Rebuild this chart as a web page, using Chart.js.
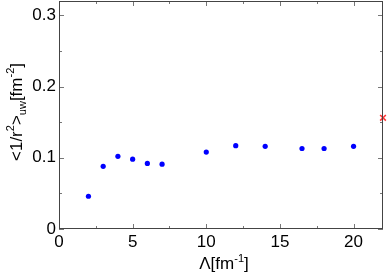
<html>
<head>
<script src="https://cdn.jsdelivr.net/npm/chart.js@4.4.0/dist/chart.umd.min.js"></script>
<style>
body { margin:0; background:#fff; }
#wrap { width:388px; height:274px; }
</style>
</head>
<body>
<div id="wrap"><canvas id="c"></canvas></div>
<script>
// data
var lambdaVals = [2, 3, 4, 5, 6, 7, 10, 12, 14, 16.5, 18, 20];
var invR2Vals = [0.046, 0.088, 0.102, 0.098, 0.092, 0.091, 0.108, 0.117, 0.116, 0.113, 0.113, 0.116];
var refLambda = [22];
var refVals = [0.156];
var xTickLabels = [0, 5, 10, 15, 20];
var yTickLabels = [0, 0.1, 0.2, 0.3];

var FONT = '"Liberation Sans", Arial, sans-serif';

function pts(xs, ys) {
	var out = [];
	for (var i = 0; i < xs.length; i++) out.push({x: xs[i], y: ys[i]});
	return out;
}

// draw a run of text pieces: [text, size, baseline shift]
function drawPieces(ctx, pieces, x, y) {
	var w = 0;
	pieces.forEach(function(p) {
		ctx.font = p[1] + 'px ' + FONT;
		w += ctx.measureText(p[0]).width;
	});
	var cx = x - w / 2;
	pieces.forEach(function(p) {
		ctx.font = p[1] + 'px ' + FONT;
		ctx.fillText(p[0], cx, y + p[2]);
		cx += ctx.measureText(p[0]).width;
	});
}

var framePlugin = {
	id: 'frame',
	afterDraw: function(chart) {
		var ctx = chart.ctx, a = chart.chartArea;
		var xs = chart.scales.x, ys = chart.scales.y;
		ctx.save();
		// inward ticks on all four sides
		ctx.strokeStyle = '#777';
		ctx.lineWidth = 1;
		ctx.beginPath();
		for (var v = 0; v <= xs.max + 1e-9; v += 2.5) {
			var px = Math.round(xs.getPixelForValue(v)) + 0.5;
			var len = (v % 5 === 0) ? 5 : 3;
			ctx.moveTo(px, a.bottom); ctx.lineTo(px, a.bottom - len);
			ctx.moveTo(px, a.top); ctx.lineTo(px, a.top + len);
		}
		for (var k = 0; k <= 6; k++) {
			var val = k * 0.05;
			var py = Math.round(ys.getPixelForValue(val)) + 0.5;
			var l2 = (k % 2 === 0) ? 5 : 3;
			ctx.moveTo(a.left, py); ctx.lineTo(a.left + l2, py);
			ctx.moveTo(a.right, py); ctx.lineTo(a.right - l2, py);
		}
		ctx.stroke();
		// frame
		ctx.strokeStyle = '#444';
		ctx.strokeRect(Math.round(a.left) + 0.5, Math.round(a.top) + 0.5,
			Math.round(a.right - a.left) - 1, Math.round(a.bottom - a.top) - 1);
		// axis titles
		ctx.fillStyle = '#000';
		ctx.textBaseline = 'alphabetic';
		ctx.textAlign = 'left';
		drawPieces(ctx, [['\u039B[fm', 17, 0], ['-1', 11, -7], [']', 17, 0]], (a.left + a.right) / 2 + 3, 269);
		ctx.translate(22, 112);
		ctx.rotate(-Math.PI / 2);
		drawPieces(ctx, [['<1/r', 17, 0], ['2', 11, -8], ['>', 17, 0], ['uw', 11, 4],
			['[fm', 17, 0], ['-2', 11, -8], [']', 17, 0]], 0, 0);
		ctx.restore();
	}
};

new Chart(document.getElementById('c'), {
	type: 'scatter',
	data: {
		datasets: [{
			data: pts(lambdaVals, invR2Vals),
			backgroundColor: '#0000ff',
			borderColor: '#0000ff',
			pointRadius: 2.6,
			borderWidth: 0
		}, {
			data: pts(refLambda, refVals),
			pointStyle: 'crossRot',
			pointRadius: 4,
			borderColor: '#ff3333',
			borderWidth: 1.6,
			clip: false
		}]
	},
	plugins: [framePlugin],
	options: {
		responsive: true,
		maintainAspectRatio: false,
		animation: false,
		layout: { autoPadding: false, padding: { top: 1, right: 5, left: 0, bottom: 0 } },
		plugins: { legend: { display: false }, tooltip: { enabled: false } },
		scales: {
			x: {
				type: 'linear', min: 0, max: 22,
				grid: { display: false, drawTicks: false },
				border: { display: false },
				afterBuildTicks: function(s) { s.ticks = xTickLabels.map(function(v) { return {value: v}; }); },
				afterFit: function(s) { s.height = 45; s.paddingLeft = 0; s.paddingRight = 0; },
				ticks: { color: '#000', padding: 3, maxRotation: 0, font: { size: 17, family: FONT } }
			},
			y: {
				type: 'linear', min: 0, max: 0.32,
				grid: { display: false, drawTicks: false },
				border: { display: false },
				afterBuildTicks: function(s) { s.ticks = yTickLabels.map(function(v) { return {value: v}; }); },
				afterFit: function(s) { s.width = 59; s.paddingTop = 0; s.paddingBottom = 0; },
				ticks: { color: '#000', padding: 3, font: { size: 17, family: FONT },
					callback: function(v) { return v === 0 ? '0' : v.toFixed(1); } }
			}
		}
	}
});
</script>
</body>
</html>
